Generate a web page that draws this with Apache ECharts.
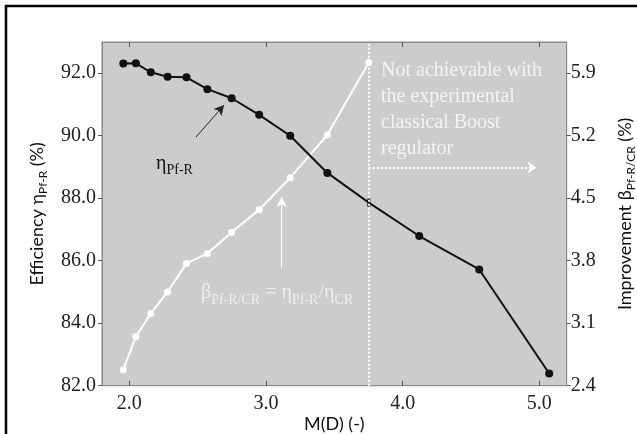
<!DOCTYPE html>
<html>
<head>
<meta charset="utf-8">
<script src="https://cdn.jsdelivr.net/npm/echarts@6/dist/echarts.min.js"></script>
<style>
  html, body { margin: 0; padding: 0; background: #ffffff; }
  #chart { width: 637px; height: 434px; }
</style>
</head>
<body>
<div id="chart"></div>
<script>
// ---- data ----
const mD        = [1.956, 2.048, 2.157, 2.280, 2.418, 2.571, 2.749, 2.950, 3.177, 3.449, 3.752, 4.121, 4.560, 5.072];
const etaPfR    = [92.31, 92.32, 92.03, 91.89, 91.87, 91.49, 91.20, 90.67, 90.00, 88.81, 87.86, 86.79, 85.72, 82.39];
const betaPfRCR = [2.58, 2.95, 3.21, 3.45, 3.77, 3.88, 4.12, 4.37, 4.73, 5.21, 6.02];
const xTickValues     = [2.0, 3.0, 4.0, 5.0];
const leftTickValues  = [82, 84, 86, 88, 90, 92];
const rightTickValues = [2.4, 3.1, 3.8, 4.5, 5.2, 5.9];
const boostLimitX = mD[10];           // limit of the experimental classical Boost regulator
const noteArrowY  = 88.98;           // height of the dotted "not achievable" arrow
const noteArrowEndX = 4.98;
const etaArrow  = [[2.488, 89.96], [2.693, 90.98]];
const betaArrow = [[3.114, 85.75], [3.114, 88.04]];

const SERIF = '"Liberation Serif", "Times New Roman", serif';
const SANS  = 'Lato, "Open Sans", sans-serif';

const chart = echarts.init(document.getElementById('chart'), null, { renderer: 'canvas' });

const etaData = mD.map((x, i) => {
  if (i === 10) return { value: [x, etaPfR[i]], symbol: 'rect', symbolSize: [3, 8] };
  return [x, etaPfR[i]];
});
const betaData = betaPfRCR.map((v, i) => [mD[i], v]);

// helper to lay out text with subscripts
const mctx = document.createElement('canvas').getContext('2d');
function richRun(pieces, x, baseline, color, mainSize, subSize, subDrop) {
  const els = [];
  let cx = x;
  pieces.forEach(([txt, sub]) => {
    const size = sub ? subSize : mainSize;
    const font = size + 'px ' + SERIF;
    mctx.font = font;
    els.push({
      type: 'text', x: cx, y: baseline + (sub ? subDrop : 0), z: 100,
      style: { text: txt, font: font, fill: color, textBaseline: 'alphabetic', textAlign: 'left' },
      silent: true
    });
    cx += mctx.measureText(txt).width;
  });
  return els;
}

const noteColor = '#f3f3f3';
const graphics = [
  { type: 'rect', shape: { x: 6, y: 6, width: 700, height: 500 }, style: { fill: 'none', stroke: '#000', lineWidth: 2.5 }, silent: true, z: 100 },
  { type: 'text', left: 381, top: 58, z: 100, silent: true,
    style: { text: 'Not achievable with\nthe experimental\nclassical Boost\nregulator', font: '20px ' + SERIF, fill: noteColor, lineHeight: 26 } }
].concat(
  richRun([['η', false], ['Pf-R', true]], 156, 154, '#111', 20, 14, 9),
  richRun([['β', false], ['Pf-R/CR', true], [' = η', false], ['Pf-R', true], ['/η', false], ['CR', true]], 201, 283, '#eeeeee', 20, 14, 10)
);

const nameRich = {
  m: { fontFamily: SANS, fontSize: 18, color: '#111', lineHeight: 22, verticalAlign: 'bottom' },
  s: { fontFamily: SANS, fontSize: 12, color: '#111', lineHeight: 22, verticalAlign: 'bottom', padding: [0, 0, -3, 0] }
};

const option = {
  animation: false,
  backgroundColor: '#ffffff',
  grid: { left: 102, top: 42, right: 70.3, bottom: 48.3, outerBoundsMode: 'none', containLabel: false,
          show: true, backgroundColor: '#cccccc', borderColor: '#8a8a8a', borderWidth: 1 },
  xAxis: [{
    type: 'value', min: 1.8, max: 5.2, position: 'bottom',
    name: 'M(D) (-)', nameLocation: 'middle', nameGap: 29, nameMoveOverlap: false,
    nameTextStyle: { fontFamily: SANS, fontSize: 18, color: '#111' },
    axisLine: { show: true, lineStyle: { color: '#8a8a8a', width: 1 } },
    axisTick: { show: true, inside: true, length: 5, customValues: xTickValues, lineStyle: { color: '#555' } },
    axisLabel: { customValues: xTickValues, formatter: v => v.toFixed(1), fontFamily: SERIF, fontSize: 20, color: '#222', margin: 8 },
    splitLine: { show: false }
  }, {
    type: 'value', min: 1.8, max: 5.2, position: 'top',
    axisLine: { show: true, lineStyle: { color: '#8a8a8a', width: 1 } },
    axisTick: { show: true, inside: true, length: 5, customValues: xTickValues, lineStyle: { color: '#555' } },
    axisLabel: { show: false },
    splitLine: { show: false }
  }],
  yAxis: [{
    type: 'value', min: 82, max: 93, position: 'left',
    name: '{m|Efficiency η}{s|Pf-R}{m| (%)}', nameLocation: 'middle', nameGap: 56, nameRotate: 90, nameMoveOverlap: false,
    nameTextStyle: { rich: nameRich },
    axisLine: { show: true, lineStyle: { color: '#8a8a8a', width: 1 } },
    axisTick: { show: true, inside: false, length: 4, customValues: leftTickValues, lineStyle: { color: '#555' } },
    axisLabel: { customValues: leftTickValues, formatter: v => v.toFixed(1), fontFamily: SERIF, fontSize: 20, color: '#222', margin: 6 },
    splitLine: { show: false }
  }, {
    type: 'value', min: 2.4, max: 6.25, position: 'right',
    name: '{m|Improvement β}{s|Pf-R/CR}{m| (%)}', nameLocation: 'middle', nameGap: 45, nameRotate: 90, nameMoveOverlap: false,
    nameTextStyle: { rich: nameRich },
    axisLine: { show: true, lineStyle: { color: '#8a8a8a', width: 1 } },
    axisTick: { show: true, inside: false, length: 4, customValues: rightTickValues, lineStyle: { color: '#555' } },
    axisLabel: { customValues: rightTickValues, formatter: v => v.toFixed(1), fontFamily: SERIF, fontSize: 20, color: '#222', margin: 4 },
    splitLine: { show: false }
  }],
  series: [{
    name: 'etaPfR', type: 'line', xAxisIndex: 0, yAxisIndex: 0, data: etaData,
    symbol: 'circle', symbolSize: 8, z: 3,
    lineStyle: { color: '#111', width: 2 }, itemStyle: { color: '#111' },
    markLine: {
      silent: true, animation: false, label: { show: false },
      symbol: ['none', 'none'],
      data: [
        [{ coord: [boostLimitX, 82], symbol: 'none', lineStyle: { color: '#ffffff', width: 2, type: [2, 2] } },
         { coord: [boostLimitX, 93], symbol: 'none' }],
        [{ coord: [boostLimitX, noteArrowY], symbol: 'none', lineStyle: { color: '#ffffff', width: 2, type: [2, 2] } },
         { coord: [noteArrowEndX, noteArrowY], symbol: 'arrow', symbolSize: [9, 9] }],
        [{ coord: etaArrow[0], symbol: 'none', lineStyle: { color: '#222', width: 1, type: 'solid' } },
         { coord: etaArrow[1], symbol: 'arrow', symbolSize: [8, 10] }],
        [{ coord: betaArrow[0], symbol: 'none', lineStyle: { color: '#ffffff', width: 1, type: 'solid' } },
         { coord: betaArrow[1], symbol: 'arrow', symbolSize: [8, 10] }]
      ]
    }
  }, {
    name: 'betaPfRCR', type: 'line', xAxisIndex: 0, yAxisIndex: 1, data: betaData,
    symbol: 'circle', symbolSize: 7, z: 2,
    lineStyle: { color: '#ffffff', width: 2 }, itemStyle: { color: '#ffffff' }
  }],
  graphic: graphics
};
chart.setOption(option);
</script>
</body>
</html>
